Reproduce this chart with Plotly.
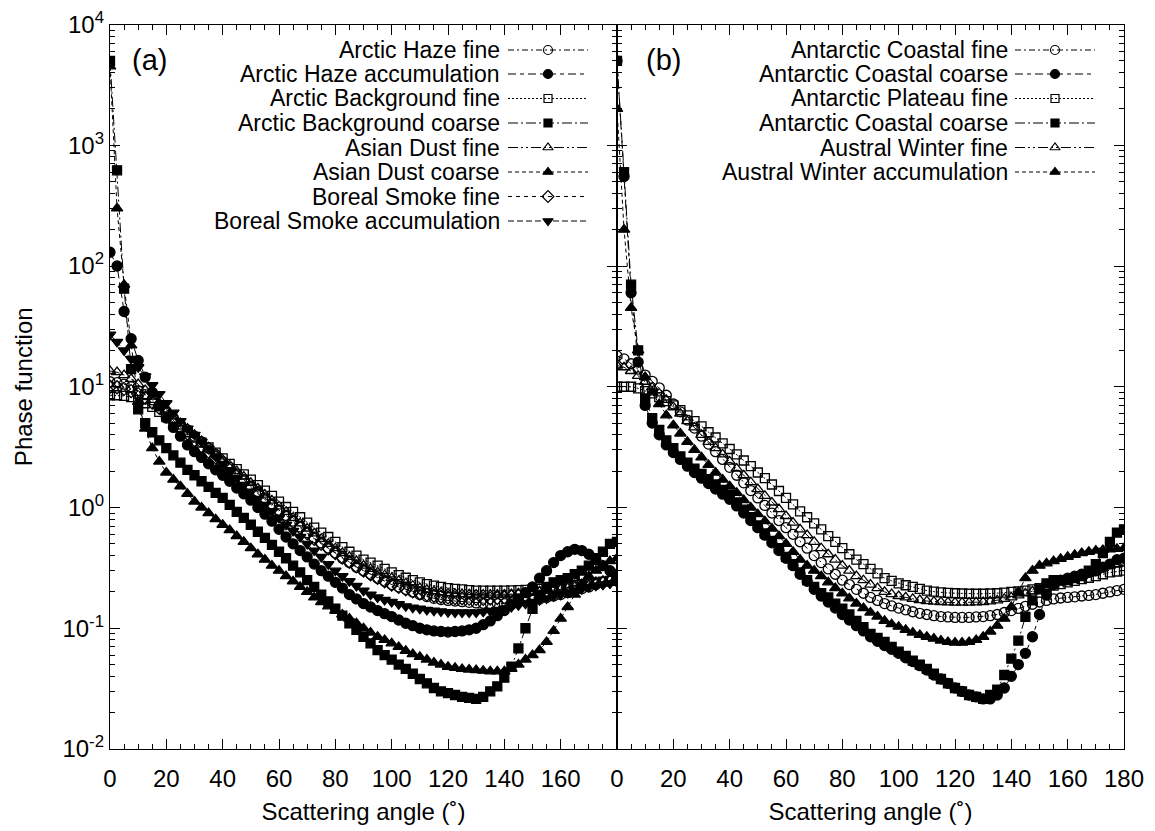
import plotly.graph_objects as go

# ---------------- data ----------------
ANGLES = [0, 2.5, 5, 7.5, 10, 12.5, 15, 17.5, 20, 22.5, 25, 27.5,
          30, 32.5, 35, 37.5, 40, 42.5, 45, 47.5, 50, 52.5, 55, 57.5,
          60, 62.5, 65, 67.5, 70, 72.5, 75, 77.5, 80, 82.5, 85, 87.5,
          90, 92.5, 95, 97.5, 100, 102.5, 105, 107.5, 110, 112.5, 115, 117.5,
          120, 122.5, 125, 127.5, 130, 132.5, 135, 137.5, 140, 142.5, 145, 147.5,
          150, 152.5, 155, 157.5, 160, 162.5, 165, 167.5, 170, 172.5, 175, 177.5,
          180]

# panel (a)
arctic_haze_fine = [11.0, 10.8, 10.5, 10.0, 9.3, 8.6, 7.8, 7.0, 6.2, 5.5, 4.9, 4.4,
                    3.9, 3.5, 3.1, 2.75, 2.4, 2.15, 1.9, 1.7, 1.5, 1.35, 1.2, 1.07,
                    0.95, 0.86, 0.77, 0.69, 0.62, 0.56, 0.51, 0.46, 0.42, 0.38, 0.35, 0.32,
                    0.30, 0.28, 0.26, 0.245, 0.23, 0.22, 0.21, 0.2, 0.19, 0.183, 0.177, 0.173,
                    0.17, 0.168, 0.166, 0.164, 0.162, 0.161, 0.16, 0.16, 0.16, 0.162, 0.165, 0.168,
                    0.17, 0.175, 0.18, 0.185, 0.19, 0.197, 0.205, 0.212, 0.22, 0.23, 0.24, 0.25,
                    0.26]
arctic_haze_acc = [130, 100, 42, 25, 16.5, 12, 9.0, 7.0, 5.5, 4.6, 3.9, 3.3,
                   2.9, 2.6, 2.3, 2.05, 1.85, 1.65, 1.45, 1.3, 1.15, 1.0, 0.88, 0.77,
                   0.66, 0.57, 0.5, 0.44, 0.39, 0.34, 0.3, 0.27, 0.24, 0.215, 0.19, 0.175,
                   0.16, 0.15, 0.14, 0.132, 0.125, 0.117, 0.11, 0.105, 0.1, 0.097, 0.095, 0.094,
                   0.093, 0.094, 0.095, 0.097, 0.1, 0.107, 0.115, 0.127, 0.14, 0.157, 0.175, 0.197,
                   0.22, 0.26, 0.3, 0.35, 0.4, 0.43, 0.45, 0.44, 0.41, 0.37, 0.33, 0.3,
                   0.28]
arctic_bg_fine = [8.5, 8.5, 8.4, 8.2, 7.8, 7.3, 6.8, 6.2, 5.6, 5.05, 4.6, 4.2,
                  3.8, 3.45, 3.15, 2.85, 2.55, 2.3, 2.08, 1.88, 1.7, 1.53, 1.38, 1.25,
                  1.12, 1.01, 0.92, 0.83, 0.75, 0.68, 0.62, 0.57, 0.52, 0.47, 0.43, 0.4,
                  0.37, 0.35, 0.33, 0.31, 0.29, 0.275, 0.262, 0.25, 0.24, 0.232, 0.225, 0.22,
                  0.215, 0.212, 0.21, 0.207, 0.205, 0.205, 0.205, 0.205, 0.205, 0.206, 0.207, 0.208,
                  0.21, 0.212, 0.215, 0.217, 0.22, 0.224, 0.228, 0.232, 0.235, 0.239, 0.243, 0.247,
                  0.25]
arctic_bg_coarse = [5000, 620, 65, 14, 6.5, 5.0, 4.2, 3.6, 3.1, 2.7, 2.35, 2.05,
                    1.85, 1.65, 1.48, 1.32, 1.2, 1.05, 0.92, 0.82, 0.72, 0.63, 0.56, 0.49,
                    0.43, 0.38, 0.33, 0.29, 0.25, 0.22, 0.19, 0.167, 0.145, 0.127, 0.11, 0.097,
                    0.085, 0.075, 0.066, 0.06, 0.055, 0.05, 0.046, 0.042, 0.038, 0.035, 0.032, 0.03,
                    0.029, 0.028, 0.027, 0.0265, 0.026, 0.027, 0.03, 0.033, 0.039, 0.048, 0.068, 0.1,
                    0.145, 0.19, 0.22, 0.24, 0.25, 0.26, 0.28, 0.3, 0.33, 0.38, 0.43, 0.5,
                    0.52]
asian_dust_fine = [13.5, 13.2, 12.5, 11.6, 10.5, 9.4, 8.3, 7.3, 6.5, 5.7, 5.0, 4.5,
                   4.0, 3.55, 3.15, 2.8, 2.5, 2.24, 2.0, 1.8, 1.6, 1.44, 1.28, 1.14,
                   1.02, 0.92, 0.82, 0.74, 0.67, 0.61, 0.55, 0.5, 0.46, 0.42, 0.39, 0.36,
                   0.33, 0.31, 0.29, 0.275, 0.26, 0.247, 0.235, 0.225, 0.215, 0.208, 0.202, 0.198,
                   0.195, 0.193, 0.192, 0.191, 0.19, 0.19, 0.19, 0.19, 0.19, 0.192, 0.195, 0.197,
                   0.2, 0.202, 0.205, 0.207, 0.21, 0.215, 0.22, 0.225, 0.23, 0.237, 0.245, 0.252,
                   0.26]
asian_dust_coarse = [4500, 300, 70, 22, 7.5, 4.5, 3.1, 2.4, 1.95, 1.7, 1.5, 1.3,
                     1.12, 1.0, 0.9, 0.8, 0.72, 0.65, 0.58, 0.52, 0.46, 0.41, 0.37, 0.33,
                     0.3, 0.27, 0.245, 0.22, 0.2, 0.18, 0.165, 0.152, 0.14, 0.13, 0.12, 0.11,
                     0.1, 0.092, 0.085, 0.08, 0.075, 0.07, 0.065, 0.061, 0.058, 0.055, 0.052, 0.05,
                     0.048, 0.047, 0.046, 0.0455, 0.045, 0.0445, 0.044, 0.044, 0.044, 0.046, 0.05, 0.055,
                     0.06, 0.066, 0.077, 0.095, 0.12, 0.15, 0.19, 0.23, 0.27, 0.3, 0.33, 0.36,
                     0.38]
boreal_smoke_fine = [10.0, 9.9, 9.6, 9.2, 8.7, 8.1, 7.4, 6.7, 6.0, 5.2, 4.6, 4.1,
                     3.6, 3.2, 2.9, 2.6, 2.3, 2.05, 1.83, 1.63, 1.45, 1.3, 1.16, 1.04,
                     0.93, 0.84, 0.76, 0.68, 0.61, 0.55, 0.5, 0.46, 0.42, 0.385, 0.355, 0.325,
                     0.3, 0.28, 0.262, 0.245, 0.23, 0.22, 0.21, 0.202, 0.195, 0.19, 0.186, 0.183,
                     0.18, 0.178, 0.177, 0.176, 0.175, 0.175, 0.176, 0.178, 0.18, 0.183, 0.186, 0.188,
                     0.19, 0.195, 0.2, 0.205, 0.21, 0.215, 0.22, 0.225, 0.23, 0.235, 0.24, 0.245,
                     0.25]
boreal_smoke_acc = [27, 23.5, 20, 17, 14.5, 12.2, 10.3, 8.7, 7.3, 6.1, 5.2, 4.5,
                    4.0, 3.5, 3.05, 2.65, 2.3, 2.0, 1.75, 1.54, 1.35, 1.18, 1.05, 0.93,
                    0.82, 0.72, 0.64, 0.57, 0.5, 0.44, 0.39, 0.34, 0.3, 0.27, 0.245, 0.224,
                    0.205, 0.19, 0.18, 0.172, 0.165, 0.158, 0.152, 0.148, 0.145, 0.142, 0.14, 0.138,
                    0.136, 0.135, 0.135, 0.135, 0.135, 0.137, 0.139, 0.142, 0.145, 0.15, 0.155, 0.16,
                    0.165, 0.171, 0.177, 0.184, 0.19, 0.197, 0.205, 0.212, 0.22, 0.225, 0.23, 0.235,
                    0.24]

# panel (b)
antarctic_coastal_fine = [18, 17, 15.5, 14, 12.5, 11.1, 9.8, 8.5, 7.2, 6.2, 5.3, 4.55,
                          3.9, 3.35, 2.9, 2.5, 2.15, 1.85, 1.6, 1.38, 1.2, 1.04, 0.9, 0.78,
                          0.68, 0.6, 0.52, 0.46, 0.4, 0.35, 0.31, 0.28, 0.25, 0.23, 0.21, 0.195,
                          0.18, 0.17, 0.16, 0.153, 0.147, 0.142, 0.137, 0.133, 0.13, 0.127, 0.125, 0.124,
                          0.123, 0.123, 0.123, 0.124, 0.125, 0.127, 0.13, 0.135, 0.14, 0.146, 0.152, 0.158,
                          0.165, 0.17, 0.175, 0.178, 0.18, 0.182, 0.185, 0.187, 0.19, 0.195, 0.2, 0.205,
                          0.21]
antarctic_coastal_coarse = [5000, 550, 60, 16, 7.0, 5.0, 4.0, 3.3, 2.85, 2.5, 2.2, 1.95,
                            1.75, 1.58, 1.42, 1.29, 1.17, 1.03, 0.9, 0.78, 0.68, 0.59, 0.51, 0.44,
                            0.38, 0.33, 0.28, 0.245, 0.21, 0.185, 0.165, 0.147, 0.13, 0.117, 0.105, 0.095,
                            0.085, 0.078, 0.072, 0.067, 0.062, 0.057, 0.053, 0.049, 0.045, 0.041, 0.038, 0.035,
                            0.032, 0.03, 0.028, 0.027, 0.026, 0.026, 0.028, 0.032, 0.04, 0.05, 0.062, 0.085,
                            0.13, 0.19, 0.23, 0.25, 0.26, 0.27, 0.28, 0.29, 0.3, 0.32, 0.34, 0.37,
                            0.38]
antarctic_plateau_fine = [10, 10, 10, 9.7, 9.2, 8.8, 8.2, 7.6, 7.0, 6.4, 5.8, 5.2,
                          4.7, 4.2, 3.8, 3.4, 3.05, 2.75, 2.45, 2.2, 1.95, 1.75, 1.55, 1.37,
                          1.2, 1.06, 0.93, 0.83, 0.74, 0.66, 0.58, 0.52, 0.46, 0.41, 0.37, 0.34,
                          0.31, 0.285, 0.26, 0.247, 0.235, 0.227, 0.22, 0.212, 0.205, 0.201, 0.198, 0.196,
                          0.195, 0.194, 0.193, 0.193, 0.193, 0.194, 0.195, 0.197, 0.2, 0.202, 0.205, 0.21,
                          0.215, 0.22, 0.225, 0.232, 0.24, 0.247, 0.255, 0.262, 0.27, 0.28, 0.29, 0.295,
                          0.3]
antarctic_coastal_coarse_2 = [5000, 600, 70, 20, 8.0, 5.5, 4.4, 3.6, 3.1, 2.65, 2.35, 2.1,
                              1.9, 1.72, 1.55, 1.4, 1.28, 1.1, 0.96, 0.83, 0.71, 0.61, 0.53, 0.46,
                              0.39, 0.34, 0.29, 0.25, 0.22, 0.195, 0.18, 0.16, 0.145, 0.13, 0.115, 0.102,
                              0.09, 0.083, 0.077, 0.07, 0.064, 0.059, 0.054, 0.05, 0.046, 0.042, 0.038, 0.035,
                              0.032, 0.03, 0.028, 0.027, 0.026, 0.028, 0.031, 0.041, 0.056, 0.079, 0.124, 0.17,
                              0.21, 0.235, 0.25, 0.25, 0.25, 0.26, 0.27, 0.3, 0.34, 0.42, 0.52, 0.62,
                              0.66]
austral_winter_fine = [15, 14.5, 13.5, 12.3, 11, 9.9, 8.8, 7.8, 6.8, 6.0, 5.2, 4.6,
                       4.0, 3.5, 3.1, 2.75, 2.4, 2.1, 1.85, 1.62, 1.42, 1.25, 1.1, 0.97,
                       0.85, 0.75, 0.66, 0.59, 0.52, 0.46, 0.41, 0.37, 0.33, 0.3, 0.27, 0.25,
                       0.23, 0.215, 0.2, 0.192, 0.185, 0.18, 0.175, 0.171, 0.168, 0.166, 0.165, 0.164,
                       0.163, 0.163, 0.163, 0.164, 0.165, 0.167, 0.17, 0.175, 0.18, 0.187, 0.195, 0.202,
                       0.21, 0.22, 0.23, 0.24, 0.25, 0.26, 0.27, 0.285, 0.3, 0.315, 0.33, 0.34,
                       0.35]
austral_winter_acc = [2000, 200, 45, 20, 12, 9, 7.2, 5.8, 4.8, 4.1, 3.5, 3.0,
                      2.6, 2.25, 1.95, 1.7, 1.5, 1.32, 1.15, 1.0, 0.88, 0.77, 0.67, 0.58,
                      0.5, 0.43, 0.37, 0.33, 0.3, 0.27, 0.24, 0.215, 0.195, 0.177, 0.16, 0.147,
                      0.135, 0.125, 0.115, 0.108, 0.103, 0.097, 0.092, 0.088, 0.085, 0.082, 0.079, 0.077,
                      0.076, 0.076, 0.077, 0.08, 0.085, 0.094, 0.105, 0.12, 0.15, 0.2, 0.26, 0.3,
                      0.33, 0.345, 0.36, 0.375, 0.39, 0.405, 0.42, 0.43, 0.44, 0.445, 0.45, 0.455,
                      0.46]

LEFT_NAMES = ["Arctic Haze fine", "Arctic Haze accumulation", "Arctic Background fine",
              "Arctic Background coarse", "Asian Dust fine", "Asian Dust coarse",
              "Boreal Smoke fine", "Boreal Smoke accumulation"]
LEFT_VALUES = [arctic_haze_fine, arctic_haze_acc, arctic_bg_fine, arctic_bg_coarse,
               asian_dust_fine, asian_dust_coarse, boreal_smoke_fine, boreal_smoke_acc]

RIGHT_NAMES = ["Antarctic Coastal fine", "Antarctic Coastal coarse", "Antarctic Plateau fine",
               "Antarctic Coastal coarse", "Austral Winter fine", "Austral Winter accumulation"]
RIGHT_VALUES = [antarctic_coastal_fine, antarctic_coastal_coarse, antarctic_plateau_fine,
                antarctic_coastal_coarse_2, austral_winter_fine, austral_winter_acc]

X_TICKS_LEFT = [0, 20, 40, 60, 80, 100, 120, 140, 160]
X_TICKS_RIGHT = [0, 20, 40, 60, 80, 100, 120, 140, 160, 180]
Y_TICKS = [1e-2, 1e-1, 1e0, 1e1, 1e2, 1e3, 1e4]
Y_TICK_TEXT = ["10<sup>-2</sup>", "10<sup>-1</sup>", "10<sup>0</sup>", "10<sup>1</sup>",
               "10<sup>2</sup>", "10<sup>3</sup>", "10<sup>4</sup>"]

# ---------------- styles ----------------
LEFT_STYLE = [("circle-open", 10, "6px,3px,2px,3px"),
              ("circle", 10, "8px,4px,4px,4px"),
              ("square-open", 9, "2px,2px"),
              ("square", 9, "10px,3px,2px,3px"),
              ("triangle-up-open", 10, "10px,3px,2px,3px,2px,3px"),
              ("triangle-up", 10, "4px,3px"),
              ("diamond-open", 10, "4px,4px"),
              ("triangle-down", 10, "6px,3px")]
RIGHT_STYLE = LEFT_STYLE[:6]

W, H = 1155, 831
FONT = "Liberation Sans, Arial, Helvetica, sans-serif"
LEFT_DOM = [110 / W, 617 / W]
RIGHT_DOM = [617 / W, 1124 / W]
Y_DOM = [1 - 749 / H, 1 - 24.5 / H]

fig = go.Figure()


def add_series(values_list, styles, xa, ya):
    for vals, (sym, size, dash) in zip(values_list, styles):
        fig.add_trace(go.Scatter(
            x=ANGLES, y=vals, mode="lines+markers", xaxis=xa, yaxis=ya,
            line=dict(color="black", width=1, dash=dash),
            marker=dict(symbol=sym, size=size, color="black",
                        line=dict(color="black", width=1.3)),
            showlegend=False, hoverinfo="skip"))


add_series(LEFT_VALUES, LEFT_STYLE, "x", "y")
add_series(RIGHT_VALUES, RIGHT_STYLE, "x2", "y2")

# ---------------- gnuplot-style key (pixel overlay axis) ----------------
ROW_Y = [50, 74, 98.5, 123, 147.5, 172, 196.5, 221]
KEYS = [(LEFT_NAMES, LEFT_STYLE, 502, 508, 548, 588),
        (RIGHT_NAMES, RIGHT_STYLE, 1010, 1015, 1055, 1095)]
annotations = []
for names, styles, tx, lx0, mx, lx1 in KEYS:
    for name, (sym, size, dash), ry in zip(names, styles, ROW_Y):
        fig.add_trace(go.Scatter(x=[lx0, lx1], y=[ry, ry], mode="lines", xaxis="x3", yaxis="y3",
                                 line=dict(color="black", width=1, dash=dash),
                                 showlegend=False, hoverinfo="skip"))
        fig.add_trace(go.Scatter(x=[mx], y=[ry], mode="markers", xaxis="x3", yaxis="y3",
                                 marker=dict(symbol=sym, size=size - 1, color="black",
                                             line=dict(color="black", width=1.2)),
                                 showlegend=False, hoverinfo="skip"))
        annotations.append(dict(x=tx / W, y=1 - ry / H, xref="paper", yref="paper",
                                text=name, showarrow=False, xanchor="right", yanchor="middle",
                                font=dict(size=23, family=FONT, color="black")))

annotations.append(dict(x=149 / W, y=1 - 60 / H, xref="paper", yref="paper", text="(a)",
                        showarrow=False, xanchor="center", yanchor="middle",
                        font=dict(size=29, family=FONT, color="black")))
annotations.append(dict(x=663 / W, y=1 - 60 / H, xref="paper", yref="paper", text="(b)",
                        showarrow=False, xanchor="center", yanchor="middle",
                        font=dict(size=29, family=FONT, color="black")))

xcommon = dict(range=[0, 180], ticks="inside", ticklen=10, tickwidth=1.3, tickcolor="black",
               showline=True, linecolor="black", linewidth=1.4, mirror="allticks",
               showgrid=False, zeroline=False, automargin=False,
               tickfont=dict(size=24, family=FONT, color="black"),
               minor=dict(dtick=5, tick0=0, ticks="inside", ticklen=5, tickcolor="black",
                          tickwidth=1.2, showgrid=False),
               title=dict(text="Scattering angle (\u02da)", standoff=12,
                          font=dict(size=24, family=FONT, color="black")),
               ticklabelstandoff=8)

MINOR_Y = [m * 10 ** e for e in range(-2, 4) for m in range(2, 10)]
ycommon = dict(type="log", range=[-2, 4], domain=Y_DOM, ticks="inside", ticklen=10,
               tickwidth=1.3, tickcolor="black", tickmode="array", tickvals=Y_TICKS,
               ticktext=Y_TICK_TEXT, showline=True, linecolor="black", linewidth=1.4,
               mirror="allticks", showgrid=False, zeroline=False, automargin=False,
               tickfont=dict(size=24, family=FONT, color="black"),
               minor=dict(tickmode="array", tickvals=MINOR_Y, ticks="inside", ticklen=5,
                          tickcolor="black", tickwidth=1.2, showgrid=False))

fig.update_layout(
    template="none",
    width=W, height=H, margin=dict(l=0, r=0, t=0, b=0, autoexpand=False),
    paper_bgcolor="white", plot_bgcolor="rgba(0,0,0,0)",
    font=dict(family=FONT, color="black"),
    showlegend=False,
    xaxis=dict(xcommon, domain=LEFT_DOM, anchor="y", tickmode="array", tickvals=X_TICKS_LEFT),
    xaxis2=dict(xcommon, domain=RIGHT_DOM, anchor="y2", tickmode="array", tickvals=X_TICKS_RIGHT),
    yaxis=dict(ycommon, anchor="x",
               title=dict(text="Phase function", standoff=22,
                          font=dict(size=24, family=FONT, color="black"))),
    yaxis2=dict(ycommon, anchor="x2", showticklabels=False),
    xaxis3=dict(domain=[0, 1], range=[0, W], visible=False, anchor="y3", fixedrange=True,
                automargin=False),
    yaxis3=dict(domain=[0, 1], range=[H, 0], visible=False, anchor="x3", fixedrange=True,
                automargin=False),
    annotations=annotations,
)

fig.write_html("out.html")
